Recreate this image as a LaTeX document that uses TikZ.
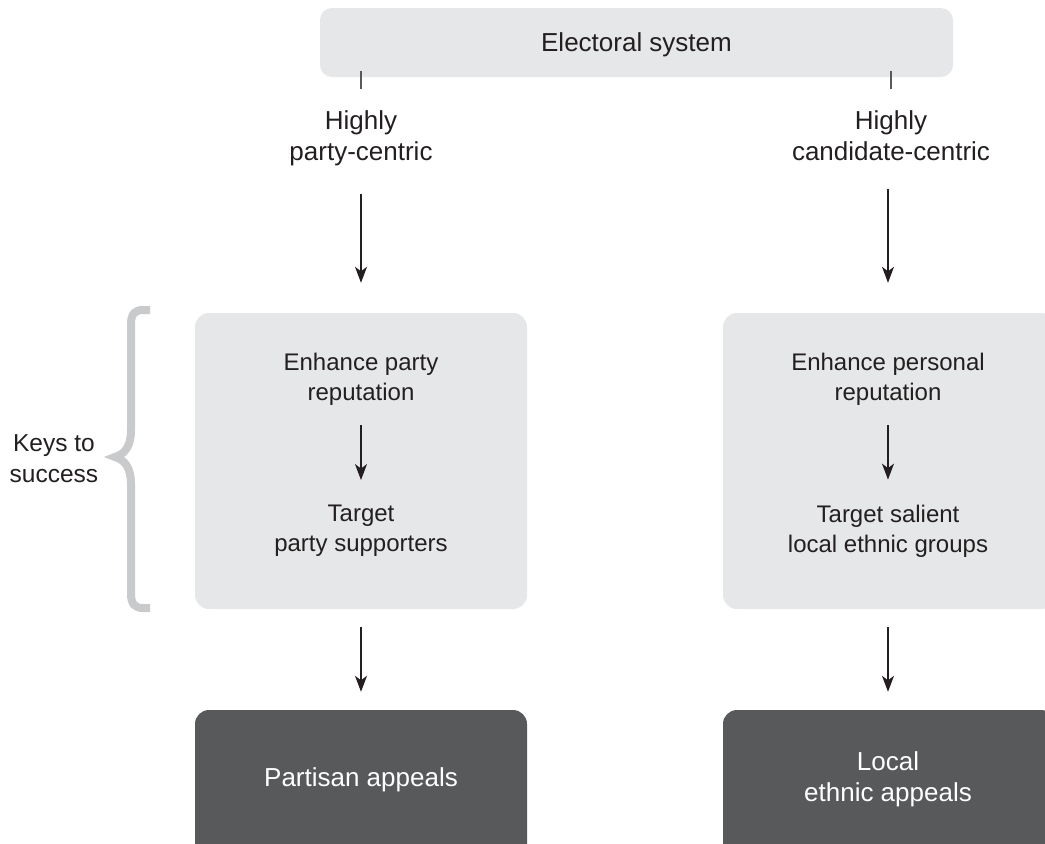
\documentclass[tikz,border=0pt]{standalone}
\usepackage{fontspec}
\setmainfont{Liberation Sans}
\usetikzlibrary{arrows.meta}
\definecolor{boxlight}{HTML}{E6E7E8}
\definecolor{boxdark}{HTML}{58595B}
\definecolor{ink}{HTML}{231F20}
\definecolor{bracegray}{HTML}{C9CACC}
\definecolor{tickgray}{HTML}{58595B}
\begin{document}
\begin{tikzpicture}[x=1pt,y=-1pt,
  big/.style={font=\fontsize{26}{31}\selectfont, text=ink, align=center, inner sep=0pt},
  small/.style={font=\fontsize{24}{30}\selectfont, text=ink, align=center, inner sep=0pt},
  side/.style={font=\fontsize{24.5}{31}\selectfont, text=ink, align=center, inner sep=0pt},
  lightbox/.style={fill=boxlight, rounded corners=14pt, minimum width=332pt, minimum height=296pt, inner sep=0pt},
  darkbox/.style={fill=boxdark, rounded corners=14pt, minimum width=332pt, minimum height=150pt, inner sep=0pt},
  arr/.style={draw=ink, line width=1.4pt, -{Stealth[length=16pt,width=12pt,inset=4.5pt]}},
  tick/.style={draw=tickgray, line width=1.3pt}
]
\useasboundingbox (0,0) rectangle (1045,844);
\clip (0,0) rectangle (1045,844);

% top box
\node[fill=boxlight, rounded corners=12pt, minimum width=633pt, minimum height=69pt, inner sep=0pt] (es) at (636.5,42.5) {};
\node[big] (est) at (636.5,45) {Electoral system};

% ticks down to the two extremes
\coordinate (t1a) at (361,71);
\coordinate (t1b) at (361,89);
\coordinate (t2a) at (891,71);
\coordinate (t2b) at (891,89);
\draw[tick] (t1a) -- (t1b);
\draw[tick] (t2a) -- (t2b);

\node[big] (pc) at (361,138) {Highly\\party-centric};
\node[big] (cc) at (891,136) {Highly\\candidate-centric};

% middle boxes
\node[lightbox] (lb) at (361,461) {};
\node[lightbox] (rb) at (889,461) {};

\node[small] (le) at (361,379) {Enhance party\\reputation};
\node[small] (lt) at (361,531) {Target\\party supporters};
\node[small] (re) at (888,379) {Enhance personal\\reputation};
\node[small] (rt) at (888,531) {Target salient\\local ethnic groups};

% bottom boxes
\node[darkbox] (pa) at (361,785) {};
\node[darkbox] (la) at (889,785) {};
\node[big, text=white] (pat) at (361,780) {Partisan appeals};
\node[big, text=white] (lat) at (888,779) {Local\\ethnic appeals};

% arrows
\draw[arr, shorten <=28pt, shorten >=30pt] (pc.south) -- (lb.north-|pc.south);
\draw[arr, shorten <=28pt, shorten >=30pt] (cc.south-|888,0) -- (rb.north-|888,0);
\draw[arr, shorten <=20pt, shorten >=25pt] (le.south) -- (lt.north);
\draw[arr, shorten <=20pt, shorten >=25pt] (re.south) -- (rt.north);
\draw[arr, shorten <=18pt, shorten >=18pt] (lb.south) -- (pa.north);
\draw[arr, shorten <=18pt, shorten >=18pt] (rb.south-|888,0) -- (la.north-|888,0);

% brace
\draw[draw=bracegray, line width=8pt]
  (150,310) -- (143,310) .. controls (135,310) and (131,314) .. (131,324)
  -- (131,430) .. controls (131,446) and (125,454) .. (115,457)
  .. controls (125,460) and (131,468) .. (131,484)
  -- (131,594) .. controls (131,604) and (135,608) .. (143,608) -- (150,608);
\node[side] (keys) at (54,459) {Keys to\\success};
\end{tikzpicture}
\end{document}
